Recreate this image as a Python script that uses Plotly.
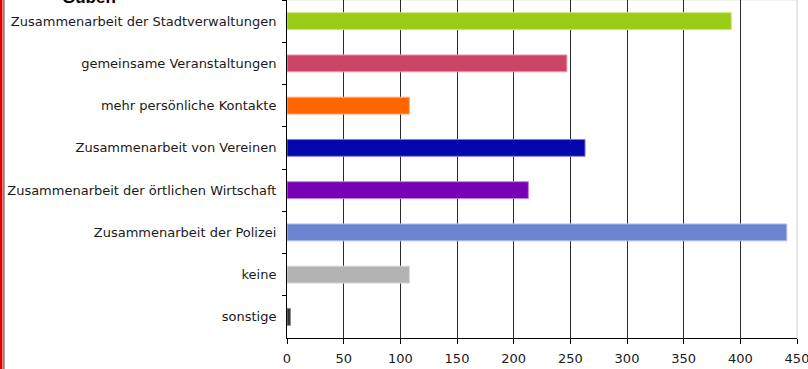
import plotly.graph_objects as go

# Categories (top to bottom) and counts
categories = [
    "Zusammenarbeit der Stadtverwaltungen",
    "gemeinsame Veranstaltungen",
    "mehr persönliche Kontakte",
    "Zusammenarbeit von Vereinen",
    "Zusammenarbeit der örtlichen Wirtschaft",
    "Zusammenarbeit der Polizei",
    "keine",
    "sonstige",
]
values = [392, 247, 108, 263, 213, 441, 108, 3]
colors = ["#99CC16", "#CC4468", "#FF6600", "#0606AE", "#7800B4", "#6A84D0", "#B3B3B3", "#333333"]
edge_colors = ["#C8EC70", "#E8A0B4", "#FFB080", "#8080E0", "#C080E0", "#B0C0EC", "#D8D8D8", "#888888"]
x_ticks = [0, 50, 100, 150, 200, 250, 300, 350, 400, 450]
title_text = "Guben"

W, H = 808, 369
L, R, T, B = 287, 11, 0, 31
pw, ph = W - L - R, H - T - B

def px_x(p):
    return (p - L) / pw

def px_y(p):
    return (H - B - p) / ph

fig = go.Figure(
    go.Bar(
        x=values,
        y=categories,
        orientation="h",
        marker=dict(color=colors, line=dict(color=edge_colors, width=1)),
        width=0.4,
        hoverinfo="x+y",
    )
)

font_family = "DejaVu Sans, sans-serif"

fig.update_layout(
    width=W,
    height=H,
    margin=dict(l=L, r=R, t=T, b=B, pad=0),
    paper_bgcolor="white",
    plot_bgcolor="white",
    showlegend=False,
    font=dict(family=font_family, size=13, color="#1a1a1a"),
    xaxis=dict(
        range=[0, 450.001],
        tickvals=x_ticks,
        ticktext=[str(v) for v in x_ticks],
        showgrid=True,
        gridcolor="#2a2a2a",
        gridwidth=1,
        zeroline=False,
        showline=True,
        linecolor="black",
        linewidth=1,
        ticks="outside",
        ticklen=5,
        tickcolor="black",
        ticklabeloverflow="allow",
        ticklabelstandoff=3,
        tickfont=dict(size=13),
    ),
    yaxis=dict(
        type="category",
        categoryorder="array",
        categoryarray=categories,
        autorange="reversed",
        showgrid=False,
        showline=True,
        linecolor="black",
        linewidth=1,
        ticks="outside",
        tickson="boundaries",
        ticklen=4,
        tickcolor="black",
        ticklabelstandoff=7,
        tickfont=dict(size=13),
    ),
    shapes=[
        # plot frame (top and right edges)
        dict(type="line", xref="paper", yref="paper", x0=0, x1=1, y0=1, y1=1,
             line=dict(color="#E4E4E4", width=1), layer="below"),
        dict(type="line", xref="paper", yref="paper", x0=1, x1=1, y0=0, y1=1,
             line=dict(color="#D0D0D0", width=1), layer="below"),
        # left page border
        dict(type="rect", xref="paper", yref="paper",
             x0=px_x(0), x1=px_x(2.5), y0=px_y(H), y1=px_y(0),
             fillcolor="#E00000", line=dict(width=0)),
        dict(type="rect", xref="paper", yref="paper",
             x0=px_x(3.2), x1=px_x(4.6), y0=px_y(H), y1=px_y(0),
             fillcolor="#666666", line=dict(width=0)),
    ],
    annotations=[
        dict(text="<b>" + title_text + "</b>", xref="paper", yref="paper",
             x=px_x(89), y=1, xanchor="center", yanchor="bottom", yshift=-9,
             showarrow=False, font=dict(size=17, color="black",
                                        family="Liberation Sans, Arial, sans-serif")),
    ],
)

fig.write_html("out.html")
